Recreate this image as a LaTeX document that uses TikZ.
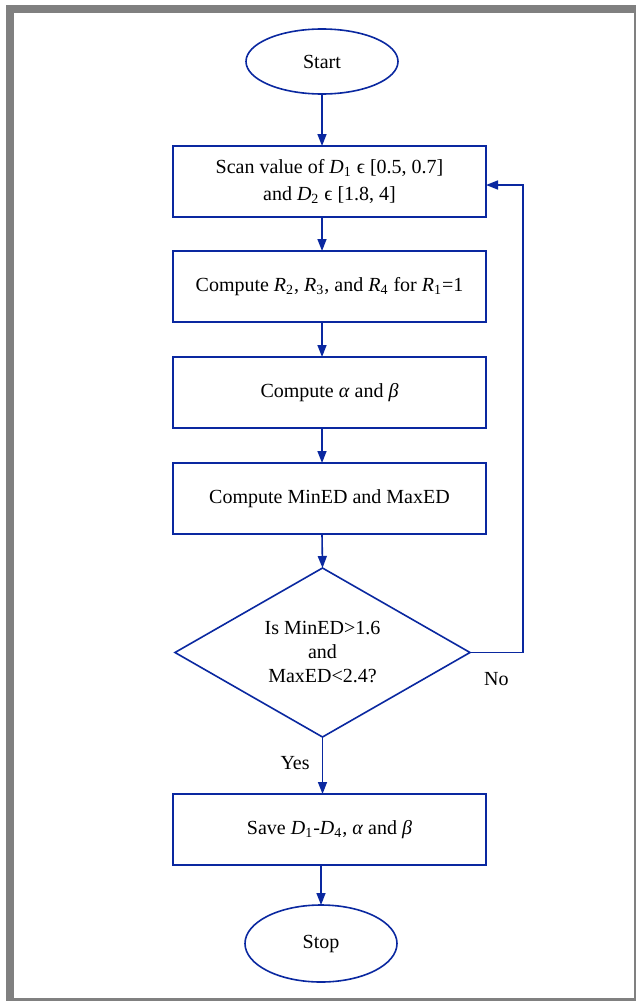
\documentclass[tikz,border=0pt]{standalone}
\usepackage{fontspec}
\setmainfont{Liberation Serif}
\usetikzlibrary{arrows.meta,positioning,calc,shapes.geometric}
\definecolor{flowblue}{RGB}{10,40,160}
\definecolor{framegrey}{RGB}{128,128,128}

\begin{document}
\begin{tikzpicture}[>={Triangle[length=6pt,width=4.5pt]},
  blk/.style={draw=flowblue,line width=0.8pt,outer sep=0pt,minimum width=156.5pt,minimum height=35.5pt,align=center},
  term/.style={draw=flowblue,line width=0.8pt,outer sep=0pt,ellipse,minimum width=76pt,inner sep=0pt},
  dec/.style={draw=flowblue,line width=0.8pt,outer sep=0pt,diamond,aspect=1.75,minimum width=147.5pt,minimum height=84.5pt,inner sep=0pt,align=center},
  flow/.style={->,draw=flowblue,line width=0.8pt}]
% frame
\useasboundingbox (0,0) rectangle (318pt,-500.5pt);
\fill[framegrey] (3pt,-2.5pt) rectangle (318pt,-500.5pt);
\fill[white] (7pt,-6.5pt) rectangle (317pt,-499pt);
% chain
\node[term,minimum height=32.5pt] (start) at (161pt,-30.75pt) {Start};
\node[blk,below=26pt of start,xshift=3.75pt] (scan) {Scan value of \textit{D}\textsubscript{1} ϵ [0.5, 0.7]\\[1.5pt]and \textit{D}\textsubscript{2} ϵ [1.8, 4]};
\node[blk,below=17pt of scan] (radii) {Compute \textit{R}\textsubscript{2}, \textit{R}\textsubscript{3}, and \textit{R}\textsubscript{4} for \textit{R}\textsubscript{1}=1};
\node[blk,below=17.5pt of radii] (angles) {Compute \textit{α} and \textit{β}};
\node[blk,below=17.5pt of angles] (dist) {Compute MinED and MaxED};
\node[dec,below=17pt of dist,xshift=-3.5pt] (check) {Is MinED>1.6\\and\\MaxED<2.4?};
\node[blk,below=28.5pt of check,xshift=3.5pt] (save) {Save \textit{D}\textsubscript{1}-\textit{D}\textsubscript{4}, \textit{α} and \textit{β}};
\node[term,minimum height=38.5pt,below=20pt of save,xshift=-4.25pt] (stop) {Stop};
% arrows
\draw[flow] (start) -- (start |- scan.north);
\draw[flow] (scan.south -| start) -- (radii.north -| start);
\draw[flow] (radii.south -| start) -- (angles.north -| start);
\draw[flow] (angles.south -| start) -- (dist.north -| start);
\draw[flow] (dist.south -| start) -- (check.north);
\draw[flow] (check.south) -- node[pos=0.45,left=2.7pt] (yes) {Yes} (check.south |- save.north);
\draw[flow] (save.south -| stop) -- (stop.north);
\draw[flow] (check.east) -- node[below=6.4pt] (no) {No} ++(26.35pt,0) |- ([yshift=-1.75pt]scan.east);
\end{tikzpicture}
\end{document}
